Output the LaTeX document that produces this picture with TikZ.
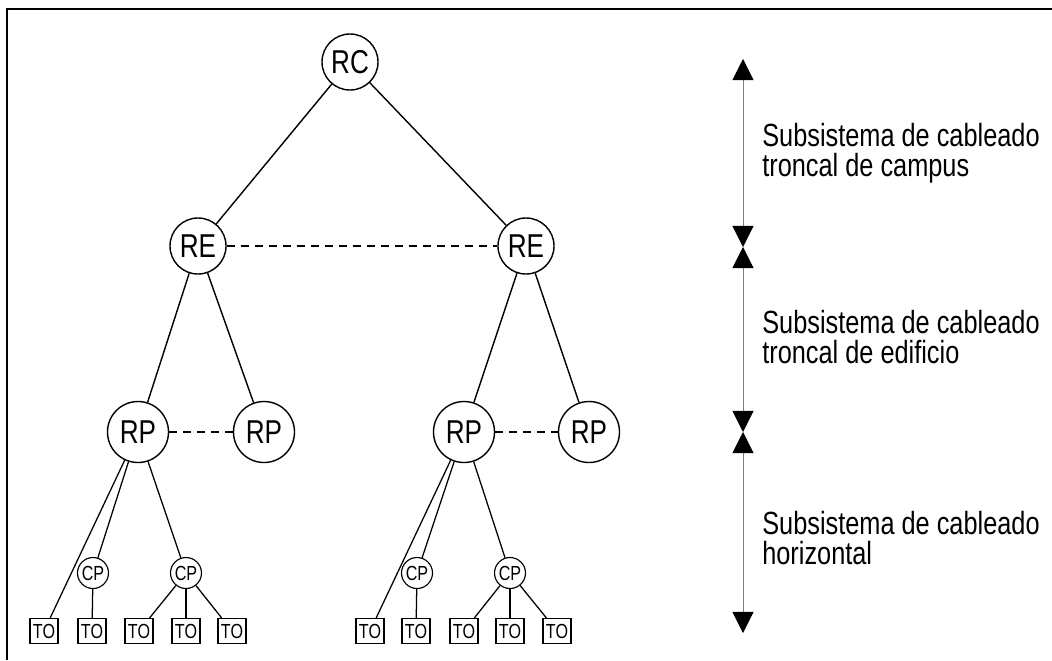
\documentclass[tikz,border=0pt]{standalone}
\usepackage{fontspec}
\setmainfont{Liberation Sans}[FakeStretch=0.79]
\usetikzlibrary{arrows.meta}

\begin{document}
\begin{tikzpicture}[x=0.025cm, y=-0.025cm,
  big/.style={draw, circle, line width=1pt, minimum size=1.4cm, inner sep=0pt,
    font=\fontsize{23.5}{26}\selectfont},
  rp/.style={big, minimum size=1.525cm},
  cp/.style={draw, circle, line width=0.8pt, minimum size=0.775cm, inner sep=0pt,
    font=\fontsize{14.5}{16}\selectfont},
  outlet/.style={draw, rectangle, line width=0.8pt, minimum width=0.7cm,
    minimum height=0.625cm, inner sep=0pt, font=\fontsize{14.5}{16}\selectfont},
  wire/.style={line width=1pt},
  thin wire/.style={line width=0.9pt},
  link/.style={line width=1pt, dash pattern=on 0.2cm off 0.15cm},
  span/.style={gray, line width=0.6pt,
    {Triangle[length=0.53cm,width=0.53cm,black]}-{Triangle[length=0.53cm,width=0.53cm,black]}},
  tag/.style={anchor=west, align=left, inner sep=0pt,
    font=\fontsize{22.8}{21.3}\selectfont}]
\useasboundingbox (0,0) rectangle (1052,660);
\draw[line width=1.4pt] (7,660) -- (7,9) -- (1052,9);

% tree
\node[big] (rc) at (350,62) {RC};
\node[big] (reL) at (198,246) {RE};
\node[big] (reR) at (526,246) {RE};
\node[rp] (rp1) at (138,432) {RP};
\node[rp] (rp2) at (264,432) {RP};
\node[rp] (rp3) at (464,432) {RP};
\node[rp] (rp4) at (589,432) {RP};
\node[cp] (cp1) at (93,573) {CP};
\node[cp] (cp2) at (186,573) {CP};
\node[cp] (cp3) at (417,573) {CP};
\node[cp] (cp4) at (510,573) {CP};
\foreach \x [count=\i] in {44,92,139,186,232,370,416,464,510,557}
  \node[outlet] (to\i) at (\x,631) {TO};

\draw[wire] (rc) -- (reL);
\draw[wire] (rc) -- (reR);
\draw[wire] (reL) -- (rp1);
\draw[wire] (reL) -- (rp2);
\draw[wire] (reR) -- (rp3);
\draw[wire] (reR) -- (rp4);
\draw[link] (reL) -- (reR);
\draw[link] (rp1) -- (rp2);
\draw[link] (rp3) -- (rp4);

\draw[thin wire] (rp1) -- (to1);
\draw[thin wire] (rp1) -- (cp1);
\draw[thin wire] (rp1) -- (cp2);
\draw[thin wire] (cp1) -- (to2);
\foreach \j in {3,4,5}
  \draw[thin wire] (cp2) -- (to\j);
\draw[thin wire] (rp3) -- (to6);
\draw[thin wire] (rp3) -- (cp3);
\draw[thin wire] (rp3) -- (cp4);
\draw[thin wire] (cp3) -- (to7);
\foreach \j in {8,9,10}
  \draw[thin wire] (cp4) -- (to\j);

% subsystems
\coordinate (a0) at (743,59);
\coordinate (a1) at (743,247);
\coordinate (a2) at (743,432);
\coordinate (a3) at (743,633);
\draw[span] (a0) -- (a1);
\draw[span] (a1) -- (a2);
\draw[span] (a2) -- (a3);
\node[tag] (t1) at (762,153) {Subsistema de cableado\\troncal de campus};
\node[tag] (t2) at (762,337) {Subsistema de cableado\\troncal de edificio};
\node[tag] (t3) at (762,538) {Subsistema de cableado\\horizontal};
\end{tikzpicture}
\end{document}
